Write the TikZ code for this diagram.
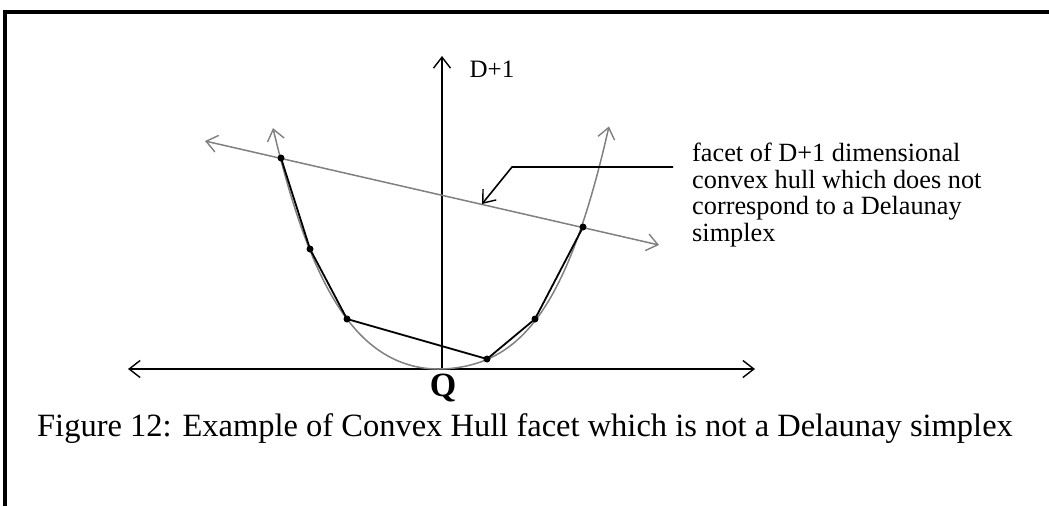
\documentclass[tikz,border=0pt]{standalone}
\usepackage{fontspec}
\setmainfont{Liberation Serif}
\usetikzlibrary{arrows.meta}
\definecolor{curvegray}{RGB}{128,128,128}
\tikzset{
  barb/.tip={Straight Barb[length=11pt,width=17pt,line width=1.4pt]},
  axisline/.style={line width=1.6pt,black},
  grayline/.style={line width=1.5pt,curvegray},
  hullline/.style={line width=1.8pt,black},
  dotnode/.style={circle,fill=black,inner sep=0pt,minimum size=7pt},
  lbl/.style={inner sep=0pt}
}
\begin{document}
\begin{tikzpicture}[x=1pt,y=-1pt]
\useasboundingbox (0,0) rectangle (1049,506);
% frame
\draw[line width=3.5pt] (5,506) -- (5,12) -- (1049,12);
% axes
\coordinate (xl) at (128,369);
\coordinate (xr) at (755,369);
\coordinate (yb) at (442,369);
\coordinate (yt) at (442,56);
\draw[axisline,{barb}-{barb}] (xl) -- (xr);
\draw[axisline,-{barb}] (yb) -- (yt);
\node[lbl,font=\fontsize{25}{25}\selectfont] (dlab) at (492,69) {D+1};
\node[lbl,font=\fontsize{34}{34}\selectfont\bfseries] (q) at (443,388) {Q};
% paraboloid
\draw[grayline,{barb}-{barb}]
  plot[domain=-1.65:0,samples=60,smooth] ({438+100*\x},{369-(48.1*\x*\x+14.83*\x*\x*\x*\x)})
  -- plot[domain=0:1.71,samples=60,smooth] ({438+100*\x},{369-(36*\x*\x+16.08*\x*\x*\x*\x)});
% facet line
\coordinate (fl) at (205,141);
\coordinate (fr) at (659,245);
\draw[grayline,{barb}-{barb}] (fl) -- (fr);
% hull points
\node[dotnode] (p1) at (281,158) {};
\node[dotnode] (p2) at (310,249) {};
\node[dotnode] (p3) at (347,319) {};
\node[dotnode] (p4) at (487,359) {};
\node[dotnode] (p5) at (535,319) {};
\node[dotnode] (p6) at (583,227) {};
\draw[hullline] (p1.center) -- (p2.center) -- (p3.center) -- (p4.center) -- (p5.center) -- (p6.center);
% annotation
\node[lbl,anchor=north west,align=left,font=\fontsize{26.3}{26.6}\selectfont] (ann) at (692,143)
  {facet of D+1 dimensional\\convex hull which does not\\correspond to a Delaunay\\simplex};
\coordinate (le) at (673,167);
\coordinate (lk) at (512,167);
\coordinate (lt) at (482,204);
\draw[axisline,-{barb}] (le) -- (lk) -- (lt);
% caption
\node[lbl,font=\fontsize{32.5}{32.5}\selectfont] (cap) at (525,429) {Figure 12: Example of Convex Hull facet which is not a Delaunay simplex};
\end{tikzpicture}
\end{document}
